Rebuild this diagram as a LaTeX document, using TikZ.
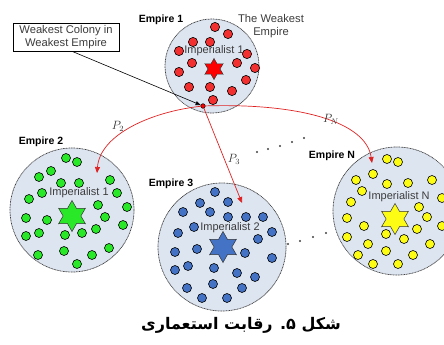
\documentclass[tikz,border=0pt]{standalone}
\usepackage{fontspec}
\setmainfont{Liberation Sans}
\newfontfamily\arabicfont[Script=Arabic]{DejaVu Sans}
\TeXXeTstate=1
\usetikzlibrary{shapes.geometric,arrows.meta}
\definecolor{empfill}{RGB}{221,229,241}
\definecolor{cred}{RGB}{242,48,48}
\definecolor{cgreen}{RGB}{40,232,40}
\definecolor{cblue}{RGB}{68,114,196}
\definecolor{cyellow}{RGB}{252,252,20}
\definecolor{arrred}{RGB}{222,34,34}
\definecolor{txtgray}{RGB}{60,60,60}
\tikzset{
  empire/.style={circle, draw=black!75, fill=empfill, line width=0.7pt, dash pattern=on 1pt off 0.6pt, inner sep=0pt, outer sep=0pt},
  colony/.style={draw=black, line width=0.6pt},
  impstar/.style={star, star points=6, star point ratio=1.75, draw=black!80, line width=0.5pt, inner sep=0pt},
  imptext/.style={font=\fontsize{11}{12}\selectfont, text=txtgray, inner sep=0pt},
  emplabel/.style={font=\fontsize{10.5}{12}\selectfont\bfseries, inner sep=0pt},
  plabel/.style={font=\fontsize{12}{13}\selectfont, text=black!80, inner sep=0pt},
  redarrow/.style={draw=arrred, line width=0.7pt, -{Triangle[length=6pt,width=5pt]}},
  sepdot/.style={fill=black!75},
}
\begin{document}
\begin{tikzpicture}[x=1pt,y=-1pt]
\useasboundingbox (0,0) rectangle (444,345);
\clip (0,0) rectangle (444,345);

% empires
\node[empire, minimum size=94pt] (e1) at (212,66) {};
\node[empire, minimum size=124pt] (e2) at (72,210) {};
\node[empire, minimum size=128pt] (e3) at (222,247) {};
\node[empire, minimum size=128pt] (eN) at (397,211) {};

% colonies
\foreach \x/\y in {215/27,228/34,193/42,210/42,179/51,247/54,192/63,237/63,255/68,179/72,246/80,189/87,210/87,232/91,213/100}
  \draw[colony, fill=cred] (\x,\y) circle[radius=4.6pt];
\foreach \x/\y in {66/158,77/162,51/171,39/177,61/183,79/183,110/180,42/193,29/199,117/193,127/207,98/205,26/218,47/220,105/217,123/225,26/236,39/233,65/235,82/233,96/229,38/255,64/251,92/255,109/248,77/264}
  \draw[colony, fill=cgreen] (\x,\y) circle[radius=4.5pt];
\foreach \x/\y in {215/192,200/203,228/202,183/212,210/212,228/217,246/217,263/217,178/233,194/227,272/232,258/239,175/252,197/249,245/253,272/258,175/270,188/266,214/268,237/273,255/277,187/288,213/284,242/288,202/298,227/298}
  \draw[colony, fill=cblue] (\x,\y) circle[radius=4.5pt];
\foreach \x/\y in {387/159,398/162,373/174,356/180,387/184,408/183,432/180,362/191,351/202,442/198,419/207,427/217,347/218,364/226,442/226,386/234,417/229,347/237,404/239,368/244,430/244,386/251,358/255,413/255,373/264,398/264}
  \draw[colony, fill=cyellow] (\x,\y) circle[radius=4.5pt];

% imperialists
\node[impstar, fill=red, minimum size=21pt] (s1) at (214,69) {};
\node[impstar, fill=cgreen, minimum size=31pt] (s2) at (72,216) {};
\node[impstar, fill=cblue, minimum size=31pt] (s3) at (223,247) {};
\node[impstar, fill=cyellow, minimum size=31pt] (sN) at (395,219) {};

\node[imptext] (t1) at (214,51) {Imperialist 1};
\node[imptext] (t2) at (79,193) {Imperialist 1};
\node[imptext] (t3) at (230,228) {Imperialist 2};
\node[imptext] (tN) at (399,197) {Imperialist N};

% empire labels
\node[emplabel] (l1) at (161,20) {Empire 1};
\node[emplabel] (l2) at (41,142) {Empire 2};
\node[emplabel] (l3) at (171,184) {Empire 3};
\node[emplabel] (lN) at (332,156) {Empire N};
\node[imptext, align=center, font=\fontsize{11.2}{13.5}\selectfont] (weak) at (271,26) {The Weakest\\Empire};

% weakest colony box
\node[draw=black, line width=0.6pt, fill=white, align=center, text=txtgray, font=\fontsize{11.2}{13}\selectfont, minimum width=106pt, minimum height=28pt, inner sep=1pt] (box) at (66,37) {Weakest Colony in\\Weakest Empire};

% weakest colony
\node[circle, draw=black, fill=red, line width=0.5pt, minimum size=4.6pt, inner sep=0pt] (wc) at (203,106) {};

\draw[line width=0.6pt, -{Triangle[length=5pt,width=4pt]}] ([xshift=6pt]box.south) -- (wc);

% competition arrows
\coordinate (p2end) at (97,173);
\coordinate (p3end) at (242,203);
\coordinate (pNend) at (372,163);
\draw[redarrow] (wc) .. controls (150,112) and (100,135) .. (p2end);
\draw[redarrow] (wc) -- (p3end);
\draw[redarrow] (wc) .. controls (300,103) and (366,122) .. (pNend);

\node[plabel] (P2) at (118,126) {$P_2$};
\node[plabel] (P3) at (234,159) {$P_3$};
\node[plabel] (PN) at (331,119) {$P_N$};

% separator dots
\foreach \x/\y in {257/152,268/149,280/146,292/142,304/138,288/244,300/241,313/237,326/233}
  \fill[sepdot] (\x,\y) circle[radius=1.1pt];

% caption
\node[inner sep=0pt, font=\arabicfont\bfseries\fontsize{16}{18}\selectfont] (cap) at (241,325) {\beginR شکل ۵. رقابت استعماری\endR};
\end{tikzpicture}
\end{document}
